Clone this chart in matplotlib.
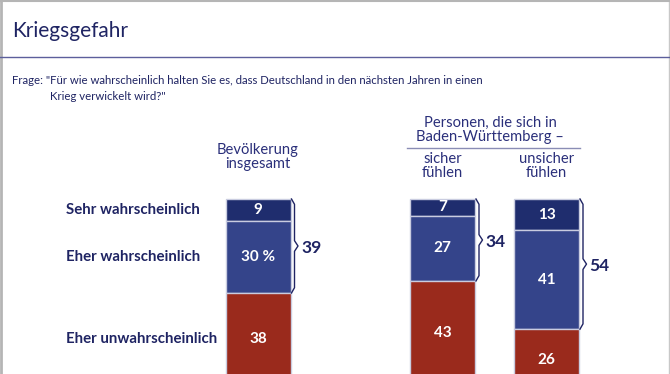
import matplotlib
matplotlib.use("Agg")
import matplotlib.pyplot as plt
import numpy as np

# data
groups = ["Bevölkerung\ninsgesamt", "sicher\nfühlen", "unsicher\nfühlen"]
categories = ["Sehr wahrscheinlich", "Eher wahrscheinlich", "Eher unwahrscheinlich"]
sehr = [9, 7, 13]
eher = [30, 27, 41]
eher_un = [38, 43, 26]
totals = [39, 34, 54]

title = "Kriegsgefahr"
question = ['Frage: "Für wie wahrscheinlich halten Sie es, dass Deutschland in den nächsten Jahren in einen',
            'Krieg verwickelt wird?"']
subgroup_header = "Personen, die sich in\nBaden-Württemberg –"

W, H = 670, 374
NAVY = "#1f2463"
C_SEHR = "#1f2d6e"
C_EHER = "#34448a"
C_UN = "#9a2a1c"
plt.rcParams["font.family"] = ["Lato", "DejaVu Sans"]

fig = plt.figure(figsize=(W / 100, H / 100), dpi=100)


def px(x, y):
    # pixel position (from top left) -> figure fraction
    return x / W, 1 - y / H


# one axes over the whole figure; x in pixels, y in percent points
ax = fig.add_axes([0, 0, 1, 1])
ax.set_xlim(0, W)
scale = 2.41          # pixels per percent point
top_px = 199          # pixel row where bars start
ax.set_ylim((H - top_px) / scale, -top_px / scale)
ax.axis("off")

centers = [258, 442.5, 546.5]
bw = 65
sehr_a = np.array(sehr)
eher_a = np.array(eher)
un_a = np.array(eher_un)
edge = dict(edgecolor="#c9cce0", linewidth=1.0)
ax.bar(centers, sehr_a, width=bw, bottom=0, color=C_SEHR, **edge)
ax.bar(centers, eher_a, width=bw, bottom=sehr_a, color=C_EHER, **edge)
ax.bar(centers, un_a, width=bw, bottom=sehr_a + eher_a, color=C_UN, **edge)

lab = dict(color="white", fontsize=11, fontweight="bold", ha="center", va="center")
for i, c in enumerate(centers):
    ax.text(c, sehr[i] / 2, str(sehr[i]), **lab)
    t = f"{eher[i]} %" if i == 0 else str(eher[i])
    ax.text(c, sehr[i] + eher[i] / 2, t, **lab)
    ax.text(c, sehr[i] + eher[i] + eher_un[i] / 2, str(eher_un[i]), **lab)

    # curly brace for the "wahrscheinlich" total
    right = c + bw / 2
    bot = sehr[i] + eher[i]
    mid = bot / 2
    d = 2.2  # curl size in percent points
    xs = [right + 1, right + 4, right + 4, right + 7.5, right + 4, right + 4, right + 1]
    ys = [0, d, mid - d, mid, mid + d, bot - d, bot]
    ax.plot(xs, ys, color=NAVY, lw=1.0, solid_joinstyle="round")
    ax.text(right + 10.5, mid + 1, str(totals[i]), color=NAVY, fontsize=12.5,
            fontweight="bold", ha="left", va="center")

# row labels on the left, aligned with the first bar's segments
row_y = [sehr[0] / 2, sehr[0] + eher[0] / 2, sehr[0] + eher[0] + eher_un[0] / 2]
for name, y in zip(categories, row_y):
    ax.text(66, y, name, color=NAVY, fontsize=10.8, fontweight="bold",
            ha="left", va="center")

# frame and title
ax.plot([1, 1], [ax.get_ylim()[0], ax.get_ylim()[1]], color="#b5b5b5", lw=2)
ax.plot([668.5, 668.5], [ax.get_ylim()[0], ax.get_ylim()[1]], color="#c8c8c8", lw=1)
fig.add_artist(plt.Line2D([0, 1], [1 - 0.5 / H, 1 - 0.5 / H], color="#b5b5b5", lw=1.5))

fig.text(*px(12, 31), title, color=NAVY, fontsize=15, ha="left", va="center")
fig.add_artist(plt.Line2D([0, 1], [1 - 57 / H] * 2, color="#5c5f9c", lw=1))
fig.text(*px(12, 80), question[0], color=NAVY, fontsize=8.2, ha="left", va="center")
fig.text(*px(50, 97), question[1], color=NAVY, fontsize=8.2, ha="left", va="center")

hdr = dict(color="#2a2f7a", fontsize=10.6, ha="center", va="center", linespacing=0.95)
fig.text(*px(centers[0], 157), groups[0], **hdr)
fig.text(*px(490, 130), subgroup_header, **hdr)
fig.add_artist(plt.Line2D([407 / W, 580 / W], [1 - 148 / H] * 2, color="#8a8db5", lw=1))
fig.text(*px(centers[1], 166), groups[1], **hdr)
fig.text(*px(centers[2], 166), groups[2], **hdr)

fig.savefig("out.png", dpi=100)
